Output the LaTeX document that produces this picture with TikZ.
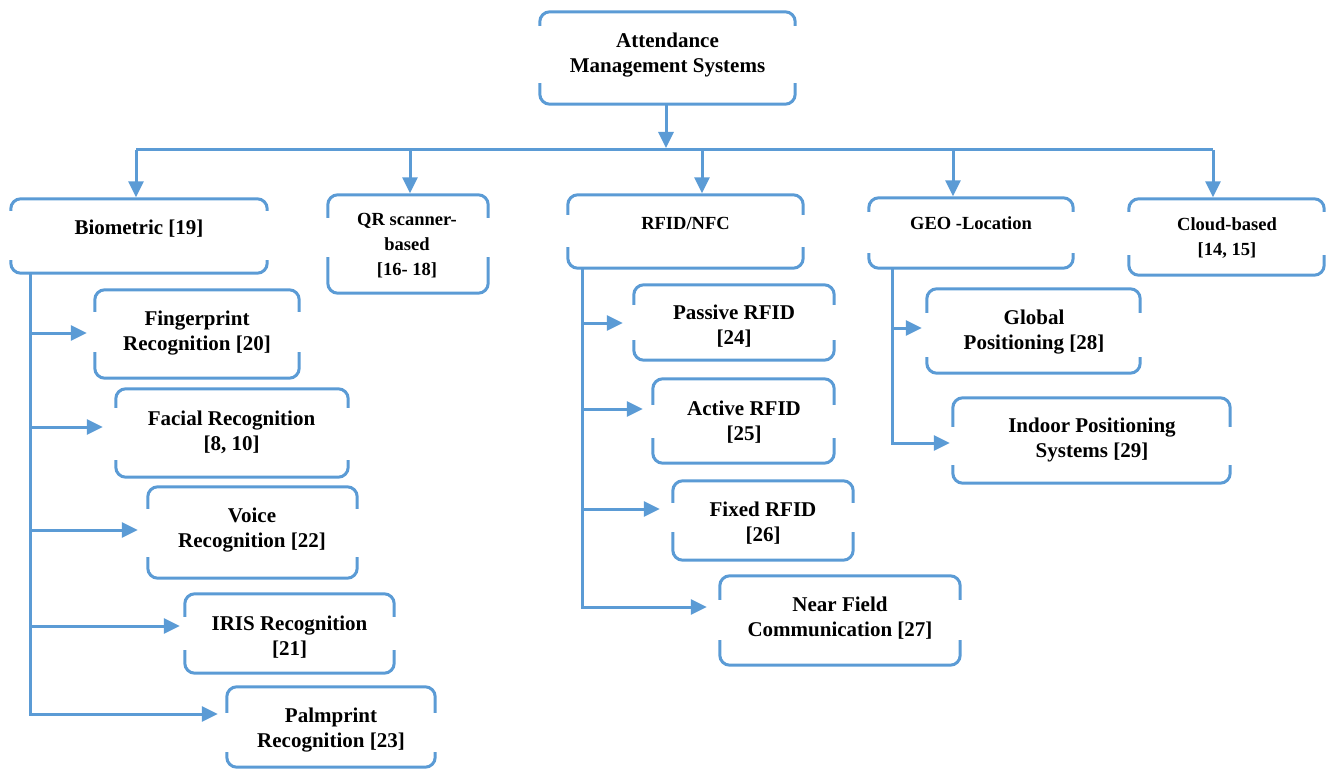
\documentclass[tikz,border=0pt]{standalone}
\usepackage{fontspec}
\setmainfont{Liberation Serif}
\usetikzlibrary{arrows.meta,fit}
\definecolor{linkblue}{HTML}{5B9BD5}

\tikzset{
  frame/.style={draw=linkblue, line width=3pt, rounded corners=10pt},
  wire/.style={draw=linkblue, line width=3pt},
  arr/.style={draw=linkblue, line width=3pt, -{Triangle[length=16pt,width=15pt]}},
  biglbl/.style={font=\fontsize{21}{25}\selectfont\bfseries, align=center, inner sep=0pt},
  smalllbl/.style={font=\fontsize{18.5}{25}\selectfont\bfseries, align=center, inner sep=0pt},
}

% #1 name, #2 left, #3 top, #4 right, #5 bottom, #6 upper side stub, #7 lower side stub
\newcommand\bracketframe[7]{%
  \node[fit={(#2,#3) (#4,#5)}, inner sep=0pt] (#1) {};
  \draw[frame] ([yshift=-#6pt]#1.north west) -- (#1.north west) -- (#1.north east) -- ([yshift=-#6pt]#1.north east);
  \draw[frame] ([yshift=#7pt]#1.south west) -- (#1.south west) -- (#1.south east) -- ([yshift=#7pt]#1.south east);
}

\begin{document}
\begin{tikzpicture}[x=1pt,y=-1pt]
\useasboundingbox (0,0) rectangle (1328,770);

% frames
\bracketframe{root}{540}{12}{795}{104}{14}{21}
\bracketframe{bio}{11}{199}{267}{273}{12}{13}
\bracketframe{qr}{328}{195}{488}{293}{23}{36}
\bracketframe{rfid}{568}{195}{803}{268}{20}{21}
\bracketframe{geo}{869}{198}{1073}{268}{14}{15}
\bracketframe{cloud}{1129}{199}{1324}{275}{13}{20}
\bracketframe{fing}{95}{290}{299}{378}{22}{26}
\bracketframe{fac}{116}{389}{348}{477}{19}{17}
\bracketframe{voice}{148}{487}{357}{578}{22}{21}
\bracketframe{iris}{185}{594}{394}{673}{23}{23}
\bracketframe{palm}{227}{687}{435}{767}{26}{15}
\bracketframe{pass}{634}{285}{834}{360}{20}{20}
\bracketframe{act}{653}{379}{834}{463}{26}{25}
\bracketframe{fix}{673}{481}{853}{560}{22}{28}
\bracketframe{nfc}{720}{576}{960}{665}{24}{25}
\bracketframe{glob}{927}{289}{1140}{373}{24}{16}
\bracketframe{ind}{953}{398}{1230}{483}{29}{18}

% labels
\node[biglbl] (rootT) at (667.5,55) {Attendance\\Management Systems};
\node[biglbl] (bioT) at (139,229) {Biometric [19]};
\node[smalllbl] (qrT) at (407,246) {QR scanner-\\based\\{}[16- 18]};
\node[smalllbl] (rfidT) at (685.5,223) {RFID/NFC};
\node[smalllbl] (geoT) at (971,223) {GEO -Location};
\node[smalllbl] (cloudT) at (1227,238) {Cloud-based\\{}[14, 15]};
\node[biglbl] (fingT) at (197,333.5) {Fingerprint\\Recognition [20]};
\node[biglbl] (facT) at (231.5,432) {Facial Recognition\\{}[8, 10]};
\node[biglbl] (voiceT) at (252,530) {Voice\\Recognition [22]};
\node[biglbl] (irisT) at (289.5,637) {IRIS Recognition\\{}[21]};
\node[biglbl] (palmT) at (331,730) {Palmprint\\Recognition [23]};
\node[biglbl] (passT) at (734,326.5) {Passive RFID\\{}[24]};
\node[biglbl] (actT) at (744,422.5) {Active RFID\\{}[25]};
\node[biglbl] (fixT) at (763,523) {Fixed RFID\\{}[26]};
\node[biglbl] (nfcT) at (840,618.5) {Near Field\\Communication [27]};
\node[biglbl] (globT) at (1034,332) {Global\\Positioning [28]};
\node[biglbl] (indT) at (1092,440) {Indoor Positioning\\Systems [29]};

% distribution bus
\coordinate (bus) at (136,150);
\draw[arr, shorten >=2pt] ([xshift=-1.5pt]root.south) -- ([xshift=-1.5pt]root.south |- bus);
\draw[wire] ([xshift=-3pt]bio.north |- bus) -- ([xshift=-13.5pt]cloud.north |- bus);
\draw[arr, shorten >=1.5pt] ([xshift=-3pt]bio.north |- bus) -- ([xshift=-3pt]bio.north);
\draw[arr, shorten >=1.5pt] ([xshift=2pt]qr.north |- bus) -- ([xshift=2pt]qr.north);
\draw[arr, shorten >=1.5pt] ([xshift=16.5pt]rfid.north |- bus) -- ([xshift=16.5pt]rfid.north);
\draw[arr, shorten >=1.5pt] ([xshift=-18pt]geo.north |- bus) -- ([xshift=-18pt]geo.north);
\draw[arr, shorten >=1.5pt] ([xshift=-13.5pt]cloud.north |- bus) -- ([xshift=-13.5pt]cloud.north);

% biometric branches
\draw[arr, shorten >=8pt] ([xshift=20pt]bio.south west) |- ([yshift=1pt]fing.west);
\draw[arr, shorten >=13pt] ([xshift=20pt]bio.south west) |- ([yshift=6pt]fac.west);
\draw[arr, shorten >=10pt] ([xshift=20pt]bio.south west) |- ([yshift=2.5pt]voice.west);
\draw[arr, shorten >=5pt] ([xshift=20pt]bio.south west) |- ([yshift=7.5pt]iris.west);
\draw[arr, shorten >=9pt] ([xshift=20pt]bio.south west) |- ([yshift=13pt]palm.west);

% RFID/NFC branches
\draw[arr, shorten >=11pt] ([xshift=15pt]rfid.south west) |- ([yshift=-0.5pt]pass.west);
\draw[arr, shorten >=10pt] ([xshift=15pt]rfid.south west) |- ([yshift=12pt]act.west);
\draw[arr, shorten >=13pt] ([xshift=15pt]rfid.south west) |- ([yshift=11.5pt]fix.west);
\draw[arr, shorten >=13pt] ([xshift=15pt]rfid.south west) |- ([yshift=13.5pt]nfc.west);

% geo-location branches
\draw[arr, shorten >=5pt] ([xshift=24pt]geo.south west) |- ([yshift=3pt]glob.west);
\draw[arr, shorten >=3pt] ([xshift=24pt]geo.south west) |- ([yshift=-2.5pt]ind.west);
\end{tikzpicture}
\end{document}
